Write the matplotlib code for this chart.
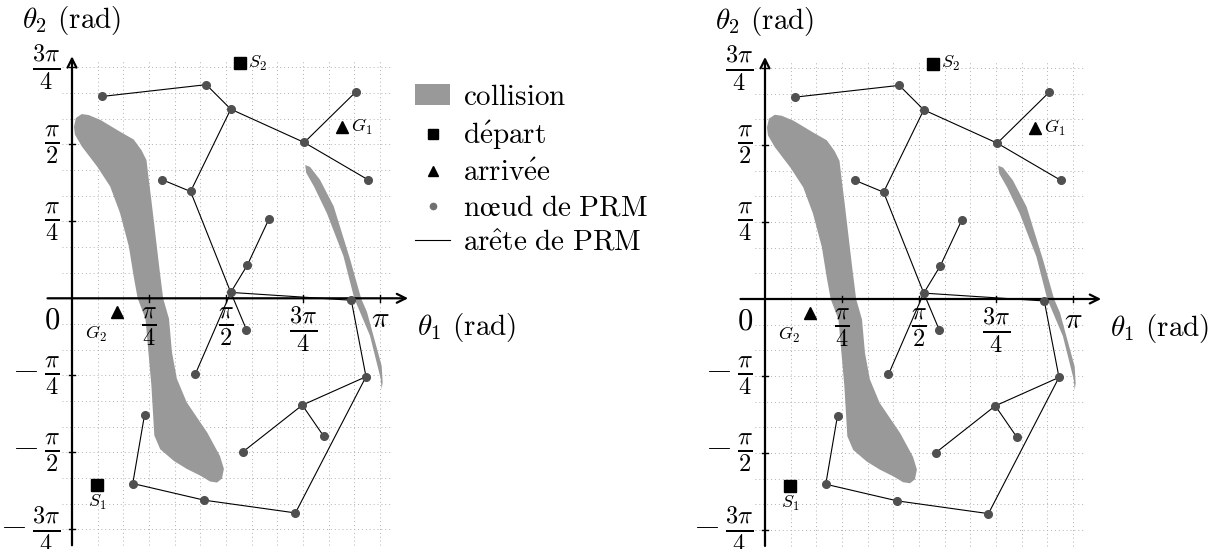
import numpy as np
import matplotlib
matplotlib.use("Agg")
import matplotlib.pyplot as plt
from matplotlib.patches import Patch
from matplotlib.lines import Line2D

plt.rcParams['font.family'] = ['cmr10', 'STIXGeneral']
plt.rcParams['mathtext.fontset'] = 'cm'
plt.rcParams['axes.unicode_minus'] = False

# Collision regions (rad), outline points
big_x = [0.10, 0.17, 0.29, 0.49, 0.63, 0.71, 0.76, 0.78, 0.81, 0.85, 0.89, 0.93,
         0.99, 1.02, 1.07, 1.17, 1.38, 1.51, 1.55, 1.53, 1.48, 1.41, 1.31, 1.17,
         1.04, 0.90, 0.84, 0.83, 0.81, 0.78, 0.75, 0.67, 0.63, 0.58, 0.49, 0.39,
         0.26, 0.10, 0.03, 0.02, 0.04]
big_y = [1.88, 1.87, 1.82, 1.70, 1.62, 1.51, 1.41, 1.24, 1.00, 0.66, 0.32, 0.00,
         -0.21, -0.55, -0.82, -1.06, -1.37, -1.61, -1.74, -1.84, -1.88, -1.87, -1.81, -1.74,
         -1.66, -1.54, -1.40, -1.23, -0.89, -0.55, -0.21, 0.00, 0.22, 0.53, 0.87, 1.14,
         1.34, 1.55, 1.67, 1.75, 1.84]
small_x = [2.38, 2.43, 2.53, 2.67, 2.84, 2.95, 3.01, 3.16, 3.17, 3.16, 3.15, 3.04,
           2.88, 2.77, 2.60, 2.47, 2.39]
small_y = [1.36, 1.34, 1.21, 0.94, 0.39, 0.00, -0.14, -0.69, -0.86, -0.93, -0.82, -0.38,
           0.00, 0.43, 0.87, 1.14, 1.28]

# PRM nodes (rad)
node_x = [0.31, 1.37, 1.62, 2.37, 2.90, 3.02, 0.92, 1.21, 2.01, 1.79, 1.62,
          2.85, 1.78, 1.26, 3.00, 2.35, 2.57, 1.74, 2.28, 1.35, 0.62, 0.74]
node_y = [2.06, 2.18, 1.93, 1.59, 2.11, 1.21, 1.21, 1.09, 0.81, 0.34, 0.06,
          -0.02, -0.32, -0.77, -0.80, -1.09, -1.41, -1.57, -2.19, -2.06, -1.89, -1.19]
# PRM edges (node index pairs)
edges = [(0, 1), (1, 2), (2, 3), (3, 4), (3, 5), (2, 7), (7, 6), (7, 10),
         (10, 12), (10, 13), (10, 9), (9, 8), (10, 11), (11, 14), (14, 15),
         (15, 16), (15, 17), (14, 18), (18, 19), (19, 20), (20, 21)]

# start / goal configurations (rad)
start_x = [0.26, 1.71]
start_y = [-1.91, 2.40]
start_lab = ['$S_1$', '$S_2$']
goal_x = [2.76, 0.46]
goal_y = [1.75, -0.14]
goal_lab = ['$G_1$', '$G_2$']

xticks = [np.pi / 4, np.pi / 2, 3 * np.pi / 4]
xtick_lab = [r'$\frac{\pi}{4}$', r'$\frac{\pi}{2}$', r'$\frac{3\pi}{4}$']
yticks = [3 * np.pi / 4, np.pi / 2, np.pi / 4, -np.pi / 4, -np.pi / 2, -3 * np.pi / 4]
ytick_lab = [r'$\frac{3\pi}{4}$', r'$\frac{\pi}{2}$', r'$\frac{\pi}{4}$',
             r'$-\,\frac{\pi}{4}$', r'$-\,\frac{\pi}{2}$', r'$-\,\frac{3\pi}{4}$']

legend_labels = [r'$\mathrm{collision}$', r'$\mathrm{d\acute{e}part}$',
                 r'$\mathrm{arriv\acute{e}e}$', r'$\mathrm{n\oe ud\ de\ PRM}$',
                 r'$\mathrm{ar\hat{e}te\ de\ PRM}$']

FS = 21
FS_TICK = 25
GRAY = '#999999'
W, H = 1209, 549
PX = 98.0  # pixels per radian


def draw_panel(ax, ox, oy, left, right):
    # map figure pixels to radians so both axes share the same scale
    ax.set_xlim((left - ox) / PX, (right - ox) / PX)
    ax.set_ylim((oy - H) / PX, oy / PX)
    ax.axis('off')

    step = np.pi / 12
    for k in range(1, 13):
        ax.plot([k * step, k * step], [-2.52, 2.43], color='#b0b0b0', lw=0.7,
                ls=(0, (1, 3)), zorder=0)
    for k in range(-9, 10):
        if k == 0:
            continue
        ax.plot([-0.1, 3.25], [k * step, k * step], color='#b0b0b0', lw=0.7,
                ls=(0, (1, 3)), zorder=0)

    ax.fill(big_x, big_y, color=GRAY, lw=0, zorder=1)
    ax.fill(small_x, small_y, color=GRAY, lw=0, zorder=1)

    # axes with arrows
    ax.annotate('', xy=(3.43, 0), xytext=(-0.25, 0),
                arrowprops=dict(arrowstyle='->', lw=1.6, color='black',
                                shrinkA=0, shrinkB=0, mutation_scale=16), zorder=2)
    ax.annotate('', xy=(0, 2.47), xytext=(0, -2.52),
                arrowprops=dict(arrowstyle='->', lw=1.6, color='black',
                                shrinkA=0, shrinkB=0, mutation_scale=16), zorder=2)

    for t, lab in zip(xticks, xtick_lab):
        ax.plot([t, t], [-0.035, 0.035], color='black', lw=1.0, zorder=2)
        ax.text(t, -0.07, lab, ha='center', va='top', fontsize=FS_TICK)
    ax.plot([np.pi, np.pi], [-0.035, 0.035], color='black', lw=1.0, zorder=2)
    ax.text(np.pi, -0.09, r'$\pi$', ha='center', va='top', fontsize=21)
    ax.text(-0.12, -0.09, '$0$', ha='right', va='top', fontsize=22)
    for t, lab in zip(yticks, ytick_lab):
        ax.plot([-0.035, 0.035], [t, t], color='black', lw=1.0, zorder=2)
        ax.text(-0.12, t, lab, ha='right', va='center', fontsize=FS_TICK)

    ax.text(3.52, -0.30, r'$\theta_1$ (rad)', ha='left', va='center', fontsize=FS)
    ax.text(-0.51, 2.83, r'$\theta_2$ (rad)', ha='left', va='center', fontsize=FS)

    for a, b in edges:
        ax.plot([node_x[a], node_x[b]], [node_y[a], node_y[b]], color='black',
                lw=0.8, zorder=3)
    ax.plot(node_x, node_y, 'o', ls='none', color='#505050', ms=5.5, zorder=4)

    ax.plot(start_x, start_y, 's', ls='none', color='black', ms=8, zorder=5)
    ax.plot(goal_x, goal_y, '^', ls='none', color='black', ms=8, zorder=5)
    ax.text(start_x[1] + 0.09, start_y[1], start_lab[1], ha='left', va='center', fontsize=13)
    ax.text(start_x[0], start_y[0] - 0.08, start_lab[0], ha='center', va='top', fontsize=13)
    ax.text(goal_x[0] + 0.09, goal_y[0], goal_lab[0], ha='left', va='center', fontsize=13)
    ax.text(goal_x[1] - 0.22, goal_y[1] - 0.12, goal_lab[1], ha='center', va='top', fontsize=13)


fig = plt.figure(figsize=(W / 100, H / 100), dpi=100)
ax1 = fig.add_axes([0, 0, 600 / W, 1])
draw_panel(ax1, 72, 298.3, 0, 600)
ax2 = fig.add_axes([693 / W, 0, 516 / W, 1])
draw_panel(ax2, 765, 299, 693, W)

handles = [Patch(facecolor=GRAY, edgecolor='none'),
           Line2D([], [], marker='s', ls='none', color='black', ms=7),
           Line2D([], [], marker='^', ls='none', color='black', ms=7),
           Line2D([], [], marker='o', ls='none', color='#707070', ms=4.5),
           Line2D([], [], color='black', lw=0.8)]
fig.legend(handles, legend_labels, loc='upper left',
           bbox_to_anchor=(415 / W, 1 - 84 / H),
           frameon=False, fontsize=FS, handlelength=1.2, handleheight=0.72,
           handletextpad=0.45, labelspacing=0.28, borderpad=0, borderaxespad=0)

fig.savefig('out.png', dpi=100)
